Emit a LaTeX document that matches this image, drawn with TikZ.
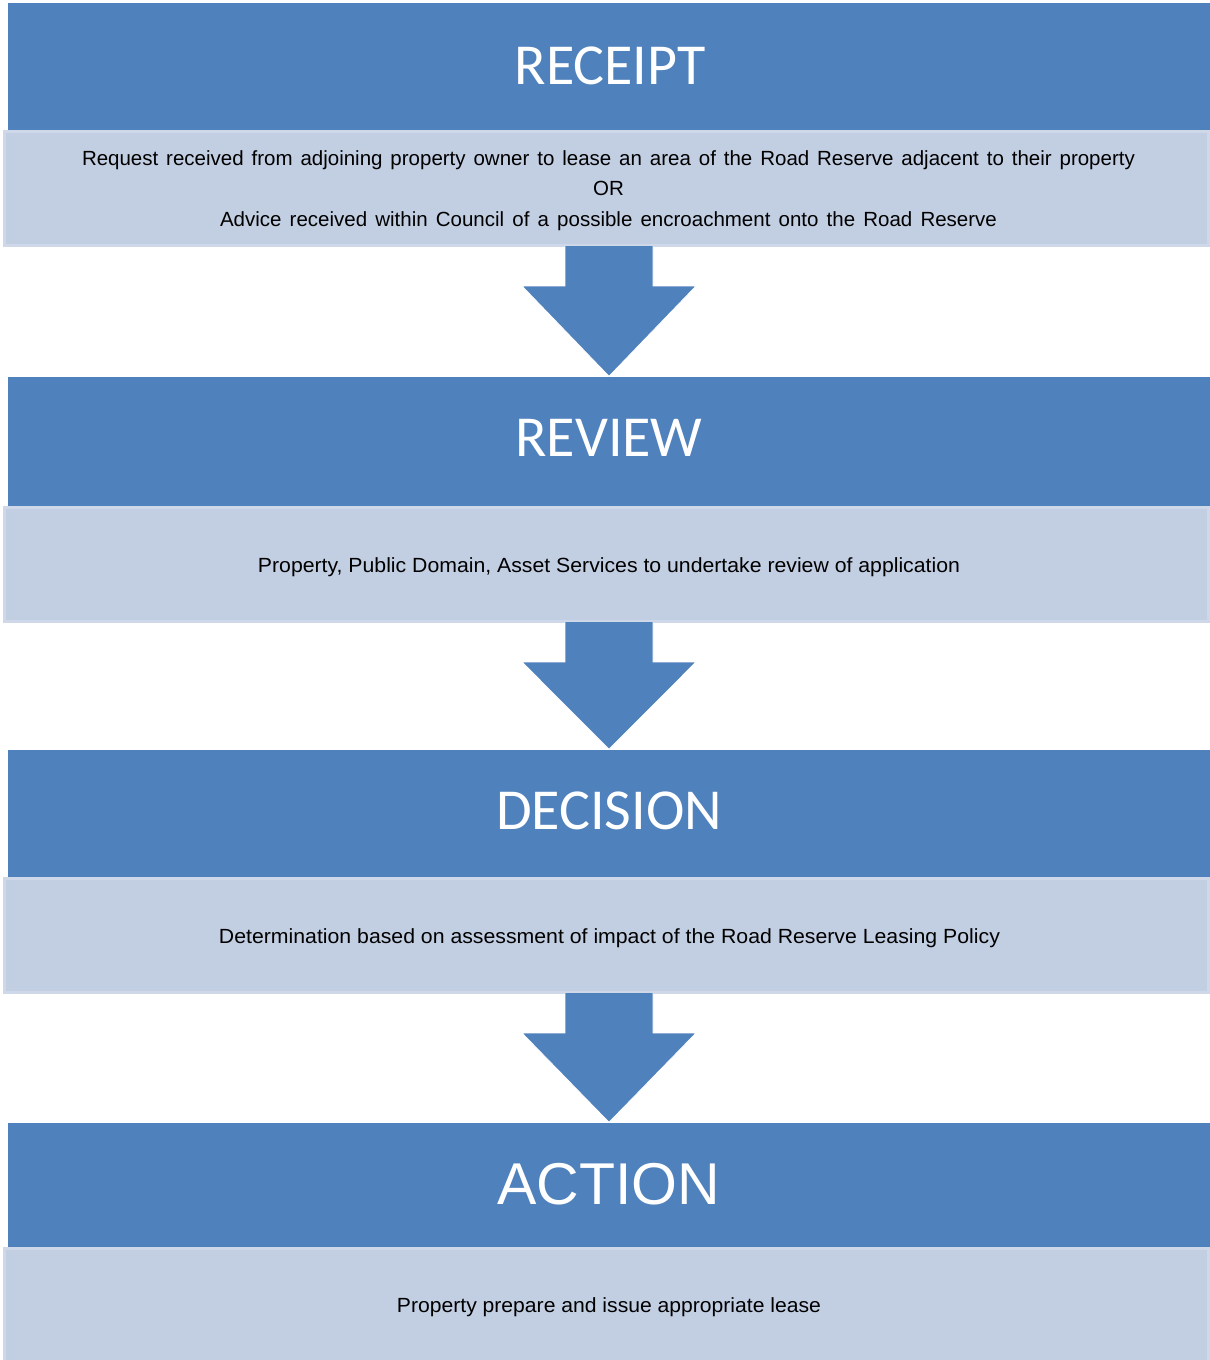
\documentclass[tikz,border=0pt]{standalone}
\usepackage{fontspec}
\setmainfont{Liberation Sans}
\newfontfamily\calibri{Carlito}
\newfontfamily\arialfont{Liberation Sans}
\usetikzlibrary{calc}
\definecolor{stageblue}{RGB}{79,129,189}
\definecolor{panelfill}{RGB}{194,206,226}
\definecolor{paneledge}{RGB}{207,216,232}
\tikzset{
  stagehead/.style={fill=stageblue, draw=none, minimum width=1202pt, minimum height=127pt, inner sep=0pt},
  headtext/.style={text=white, inner sep=0pt, anchor=base, font=\calibri\fontsize{58}{62}\selectfont},
  panel/.style={fill=panelfill, draw=paneledge, line width=3pt, minimum width=1204pt, inner sep=0pt},
  bodytext/.style={inner sep=0pt, anchor=base, font=\arialfont\fontsize{20.5}{24}\selectfont},
  downarrow/.style={fill=stageblue, draw=white, line width=0.8pt, line join=miter}
}
\begin{document}
\begin{tikzpicture}[x=1pt, y=-1pt]
\useasboundingbox (0,0) rectangle (1210,1360);

% stage headers
\node[stagehead, minimum height=127pt] (h1) at (609,66.5) {};
\node[stagehead, minimum height=129pt] (h2) at (609,441.5) {};
\node[stagehead, minimum height=127pt] (h3) at (609,813.5) {};
\node[stagehead, minimum height=124pt] (h4) at (609,1185) {};

% description panels
\node[panel, minimum height=114pt] (b1) at (606.5,188.5) {};
\node[panel, minimum height=114pt] (b2) at (606.5,564.5) {};
\node[panel, minimum height=114pt] (b3) at (606.5,935.5) {};
\node[panel, minimum height=114pt] (b4) at (606.5,1305) {};

% block arrows between stages
\foreach \a/\b in {b1/h2, b2/h3, b3/h4}{
  \path[downarrow] let \p1=(\a.south), \p2=(\b.north) in
    (\x2-44pt,\y1+1pt) -- (\x2-44pt,\y1-39pt) -- (\x2-87pt,\y1-39pt)
    -- (\x2,\y2+0.5pt) -- (\x2+87pt,\y1-39pt) -- (\x2+44pt,\y1-39pt)
    -- (\x2+44pt,\y1+1pt);
}

% header titles
\node[headtext] (t1) at (610,84) {RECEIPT};
\node[headtext] (t2) at (609,456) {REVIEW};
\node[headtext] (t3) at (609,829) {DECISION};
\node[headtext, font=\arialfont\fontsize{59}{63}\selectfont] (t4) at (609,1204) {ACTION};

% panel texts
\node[bodytext] (d1a) at (608.5,165) {\makebox[1053pt][s]{Request received from adjoining property owner to lease an area of the Road Reserve adjacent to their property}};
\node[bodytext] (d1b) at (608.5,195.5) {OR};
\node[bodytext] (d1c) at (608.5,226) {\makebox[777pt][s]{Advice received within Council of a possible encroachment onto the Road Reserve}};
\node[bodytext] (d2) at (609,572) {\resizebox{702pt}{\height}{Property, Public Domain, Asset Services to undertake review of application}};
\node[bodytext] (d3) at (609.5,943) {\resizebox{781pt}{\height}{Determination based on assessment of impact of the Road Reserve Leasing Policy}};
\node[bodytext] (d4) at (609,1312) {\resizebox{424pt}{\height}{Property prepare and issue appropriate lease}};
\end{tikzpicture}
\end{document}
